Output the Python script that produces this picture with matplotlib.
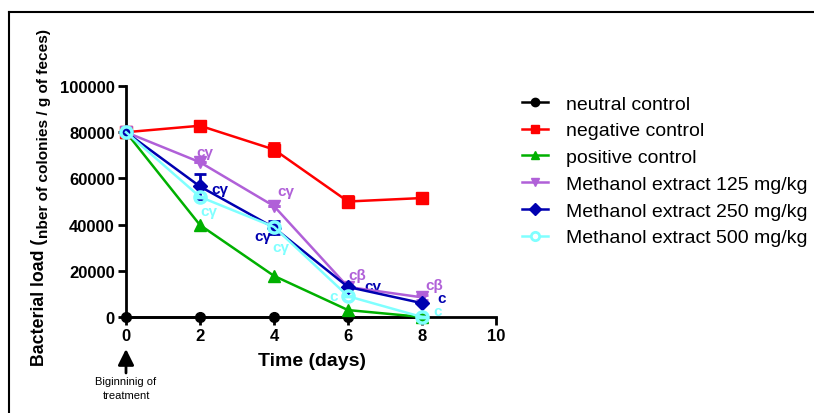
import matplotlib
matplotlib.use("Agg")
import matplotlib.pyplot as plt
from matplotlib.lines import Line2D

plt.rcParams['font.family'] = ['Liberation Sans', 'DejaVu Sans']

days = [0, 2, 4, 6, 8]
neutral = [0, 0, 0, 0, 0]
negative = [80000, 82800, 72500, 50000, 51500]
negative_err = [0, 1200, 2800, 2200, 1800]
positive = [80000, 39800, 17800, 3000, 0]
meth125 = [80000, 67000, 48000, 13000, 8500]
meth125_err = [0, 0, 0, 0, 1200]
meth250 = [80000, 56500, 38700, 13000, 6000]
meth250_err = [0, 5500, 2800, 0, 0]
meth500 = [80000, 52000, 39000, 9000, 0]
meth500_err = [0, 0, 0, 0, 0]

labels = ["neutral control", "negative control", "positive control",
          "Methanol extract 125 mg/kg", "Methanol extract 250 mg/kg",
          "Methanol extract 500 mg/kg"]

# significance annotations: (x, y, text, series index)
ann_x = [1.89, 2.30, 2.00, 4.08, 3.46, 3.95, 6.00, 6.43, 5.51, 8.08, 8.42, 8.30]
ann_y = [71400, 55400, 45900, 54500, 35000, 30300, 18200, 13400, 9100, 14000, 8300, 2800]
ann_t = ["cγ", "cγ", "cγ", "cγ", "cγ", "cγ", "cβ", "cγ", "c", "cβ", "c", "c"]
ann_series = [3, 4, 5, 3, 4, 5, 3, 4, 5, 3, 4, 5]

colors = ["#000000", "#FF0000", "#00B000", "#B060D8", "#0000B0", "#80FFFF"]
markers = ['o', 's', '^', 'v', 'D', 'o']

fig = plt.figure(figsize=(8.14, 4.14), dpi=100)
ax = fig.add_axes([126/814, 1-318/414, (496-126)/814, (318-87)/414])

lw = 1.8
cap = 4
ax.plot(days, neutral, color=colors[0], marker='o', ms=7, lw=lw, clip_on=False, zorder=3)
ax.errorbar(days, negative, yerr=negative_err, color=colors[1], marker='s', ms=8.5, lw=lw,
            capsize=cap, capthick=2, elinewidth=2, clip_on=False, zorder=3)
ax.plot(days, positive, color=colors[2], marker='^', ms=8, lw=lw, clip_on=False, zorder=3)
ax.errorbar(days, meth125, yerr=meth125_err, color=colors[3], marker='v', ms=8, lw=lw,
            capsize=cap, capthick=2, elinewidth=2, clip_on=False, zorder=3)
ax.errorbar(days, meth250, yerr=meth250_err, color=colors[4], marker='D', ms=7, lw=lw,
            capsize=cap, capthick=2, elinewidth=2, clip_on=False, zorder=3)
ax.errorbar(days, meth500, yerr=meth500_err, color=colors[5], marker='o', ms=8, lw=lw,
            mfc='none', mec=colors[5], mew=2.5,
            capsize=cap, capthick=2, elinewidth=2, clip_on=False, zorder=3)

for x, y, t, s in zip(ann_x, ann_y, ann_t, ann_series):
    ax.text(x, y, t, color=colors[s], fontsize=11, fontweight='bold', ha='left', va='center')

ax.set_xlim(0, 10)
ax.set_ylim(0, 100000)
ax.set_xticks([0, 2, 4, 6, 8, 10])
ax.set_yticks([0, 20000, 40000, 60000, 80000, 100000])
ax.set_yticklabels(["0", "20000", "40000", "60000", "80000", "100000"])
for s in ['top', 'right']:
    ax.spines[s].set_visible(False)
for s in ['left', 'bottom']:
    ax.spines[s].set_linewidth(2)
ax.tick_params(width=2, length=6, labelsize=12, pad=2)
for lab in ax.get_xticklabels() + ax.get_yticklabels():
    lab.set_fontweight('bold')

fig.text(312/814, 1-362/414, "Time (days)", fontsize=14, fontweight='bold', ha='center', va='center')

# y label in two parts
fig.text(40/814, 1-302/414, "Bacterial load (", rotation=90, fontsize=12.8, fontweight='bold',
         ha='center', va='center')
fig.text(44/814, 1-133/414, "nber of colonies / g of feces)", rotation=90, fontsize=11.1,
         fontweight='bold', ha='center', va='center')

# beginning of treatment arrow
ax.annotate("", xy=(0, -32/231), xycoords=('data', 'axes fraction'),
            xytext=(0, -56/231), textcoords=('data', 'axes fraction'),
            arrowprops=dict(arrowstyle='-|>', color='black', lw=2, mutation_scale=24,
                            shrinkA=0, shrinkB=0))
fig.text(126/814, 1-389/414, "Biginninig of\ntreatment", fontsize=8, ha='center', va='center',
         linespacing=1.4)

handles = []
for i in range(6):
    kw = dict(color=colors[i], marker=markers[i], lw=lw, ms=6)
    if i == 5:
        kw.update(mfc='white', mec=colors[i], mew=2)
    handles.append(Line2D([], [], **kw))
leg = fig.legend(handles, labels, loc='upper left', bbox_to_anchor=(522/814, 1-96/414),
                 frameon=False, fontsize=14, handlelength=1.35, labelspacing=0.47,
                 handletextpad=0.9, borderpad=0, borderaxespad=0)

# outer frame lines
fig.add_artist(Line2D([9/814, 813/814], [1-13/414, 1-13/414], color='black', lw=1.5))
fig.add_artist(Line2D([9/814, 9/814], [1-13/414, 0], color='black', lw=1.5))

fig.savefig("out.png", dpi=100)
